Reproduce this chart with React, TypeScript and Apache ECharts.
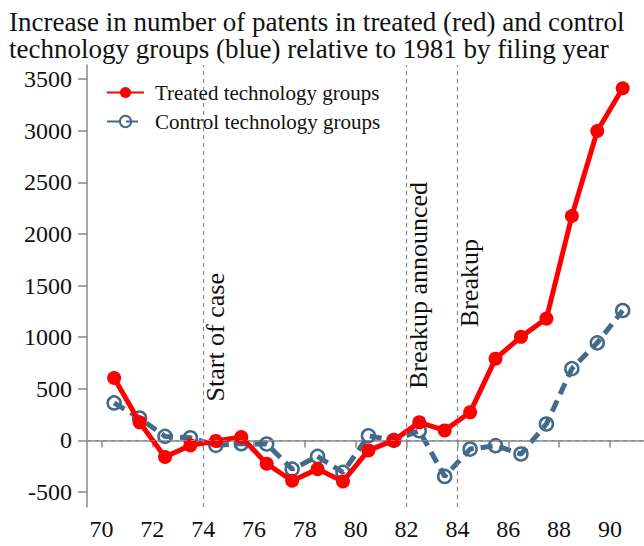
import React, { useEffect, useRef } from "react";
import * as echarts from "echarts";

const years = [70, 71, 72, 73, 74, 75, 76, 77, 78, 79, 80, 81, 82, 83, 84, 85, 86, 87, 88, 89, 90];
const treated = [605, 175, -161, -48, -5, 33, -226, -391, -278, -397, -97, 0, 175, 97, 272, 792, 1003, 1180, 2173, 2997, 3411];
const control = [363, 217, 39, 25, -48, -32, -35, -278, -155, -310, 45, 0, 94, -349, -84, -51, -132, 159, 695, 945, 1258];
const xTicks = [70, 72, 74, 76, 78, 80, 82, 84, 86, 88, 90];
const yTicks = [-500, 0, 500, 1000, 1500, 2000, 2500, 3000, 3500];
const eventYears = [74, 82, 84];
const eventLabels = ["Start of case", "Breakup announced", "Breakup"];
const eventLabelY = [377, 497, 1097];

const FONT = "Liberation Serif";
const RED = "#ff0000";
const BLUE = "#436a89";
const GRAY = "#8a8a8a";

export default function App() {
  const ref = useRef<HTMLDivElement>(null);
  useEffect(() => {
    if (!ref.current) return;
    const chart = echarts.init(ref.current, undefined, { renderer: "svg" });
    const option: any = {
      animation: false,
      backgroundColor: "#fff",
      textStyle: { fontFamily: FONT },
      title: {
        text: "Increase in number of patents in treated (red) and control\ntechnology groups (blue) relative to 1981 by filing year",
        left: 4,
        top: 3,
        textStyle: { fontFamily: FONT, fontSize: 27, fontWeight: "normal", color: "#111", lineHeight: 27 },
      },
      legend: {
        orient: "vertical",
        left: 96,
        top: 76,
        backgroundColor: "#fff",
        padding: [6, 10, 6, 10],
        itemWidth: 37,
        itemHeight: 14,
        itemGap: 8,
        textStyle: { fontFamily: FONT, fontSize: 21, color: "#111", padding: [0, 0, 0, 6] },
        data: ["Treated technology groups", "Control technology groups"],
      },
      grid: { left: 87, right: 0, top: 65, bottom: 39 },
      xAxis: {
        type: "value",
        min: 69.433,
        max: 91.338,
        splitLine: { show: false },
        axisLine: { lineStyle: { color: GRAY, width: 1.5 } },
        axisTick: { customValues: xTicks, length: 7, lineStyle: { color: GRAY, width: 1.5 } },
        axisLabel: { customValues: xTicks, fontFamily: FONT, fontSize: 24, color: "#111", margin: 10 },
      },
      yAxis: {
        type: "value",
        min: -645,
        max: 3636,
        splitLine: { show: false },
        axisLine: { show: true, lineStyle: { color: GRAY, width: 1.5 } },
        axisTick: { show: true, customValues: yTicks, length: 9, lineStyle: { color: GRAY, width: 1.5 } },
        axisLabel: {
          customValues: yTicks,
          formatter: (v: number) => String(v),
          fontFamily: FONT,
          fontSize: 24,
          color: "#111",
          margin: 15,
        },
      },
      series: [
        {
          type: "line",
          name: "Control technology groups",
          data: years.map((y, i) => [y + 0.5, control[i]]),
          symbol: "circle",
          symbolSize: 13,
          z: 2,
          lineStyle: { color: BLUE, width: 5, type: [12, 7] },
          itemStyle: { color: "rgba(255,255,255,0)", borderColor: BLUE, borderWidth: 2.5 },
          markLine: {
            silent: true,
            symbol: "none",
            label: { show: false },
            lineStyle: { color: GRAY, type: [4, 4], width: 1.2 },
            data: [{ yAxis: 0 }, ...eventYears.map((e) => ({ xAxis: e }))],
          },
        },
        {
          type: "line",
          name: "Treated technology groups",
          data: years.map((y, i) => [y + 0.5, treated[i]]),
          symbol: "circle",
          symbolSize: 14,
          z: 3,
          lineStyle: { color: RED, width: 5 },
          itemStyle: { color: RED },
        },
      ],
    };
    chart.setOption(option);
    const graphics = eventYears.map((e, i) => {
      const p = chart.convertToPixel({ gridIndex: 0 }, [e, eventLabelY[i]]) as number[];
      return {
        type: "text",
        x: p[0] - 1,
        y: p[1],
        rotation: Math.PI / 2,
        z: 10,
        style: {
          text: eventLabels[i],
          fontFamily: FONT,
          fontSize: 26,
          fill: "#111",
          align: "left",
          verticalAlign: "top",
        },
      };
    });
    chart.setOption({ graphic: graphics });
    return () => chart.dispose();
  }, []);
  return <div ref={ref} style={{ position: "absolute", left: 0, top: 0, width: 644, height: 546 }} />;
}
